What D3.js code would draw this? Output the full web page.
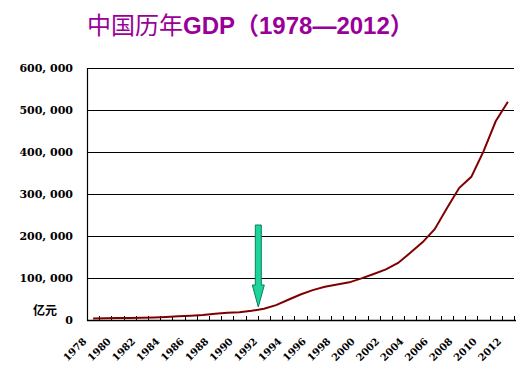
<!DOCTYPE html>
<html><head><meta charset="utf-8">
<script src="https://cdn.jsdelivr.net/npm/d3@7"></script>
<style>
html,body{margin:0;padding:0;background:#fff;}
svg{display:block;}
</style></head>
<body>
<svg id="chart" width="519" height="371"></svg>
<script>
const years = [1978,1979,1980,1981,1982,1983,1984,1985,1986,1987,1988,1989,1990,1991,1992,1993,1994,1995,1996,1997,1998,1999,2000,2001,2002,2003,2004,2005,2006,2007,2008,2009,2010,2011,2012];
const gdp = [3645,4063,4546,4892,5323,5963,7208,9016,10275,12059,15043,16992,18668,21782,26924,35334,48198,60794,71177,78973,84402,89677,99215,109655,120333,135823,159878,184937,216314,265810,314045,340903,401513,473104,519470];
const yTicks = [0,100000,200000,300000,400000,500000,600000];
const xTickLabels = years.filter(y => (y - 1978) % 2 === 0);
const titleParts = [
  {t: "中国历年", cjk: true, bold: false},
  {t: "GDP", cjk: false, bold: true},
  {t: "（", cjk: true, bold: true},
  {t: "1978—2012", cjk: false, bold: true},
  {t: "）", cjk: true, bold: true}
];
const unitLabel = "亿元";
const arrowYear = 1992;

(function(){
const svg = d3.select("#chart");
const pL = 87, pR = 514, pT = 68, pB = 320;

const x = d3.scaleBand().domain(years).range([pL, pR]).padding(0);
const y = d3.scaleLinear().domain([0, 600000]).range([pB, pT]);
const cx = d => x(d) + x.bandwidth() / 2;

// title
const title = svg.append("text").attr("x", 87).attr("y", 34)
  .attr("fill", "#990099").attr("font-size", 24);
title.selectAll("tspan").data(titleParts).join("tspan")
  .text(d => d.t)
  .attr("font-family", d => d.cjk ? "'Noto Sans CJK SC'" : "'Liberation Sans', Arial")
  .attr("font-weight", d => d.bold ? 700 : 400);

// gridlines
svg.append("g").selectAll("line").data(yTicks.filter(v => v > 0)).join("line")
  .attr("x1", pL).attr("x2", pR)
  .attr("y1", d => Math.round(y(d)) + 0.5).attr("y2", d => Math.round(y(d)) + 0.5)
  .attr("stroke", "#000").attr("stroke-width", 1);

// y axis line
svg.append("line").attr("x1", pL + 0.5).attr("x2", pL + 0.5)
  .attr("y1", pT).attr("y2", pB + 1).attr("stroke", "#000").attr("stroke-width", 1.2);

// y labels
const fmt = v => d3.format(",")(v).replace(/,/g, ", ");
svg.append("g").selectAll("text").data(yTicks).join("text")
  .attr("x", 73).attr("y", d => y(d) + 4)
  .attr("text-anchor", "end")
  .attr("font-family", "'DejaVu Serif'").attr("font-weight", 700).attr("font-size", 11)
  .attr("fill", "#000")
  .text(fmt);

svg.append("text").attr("x", 33).attr("y", 315)
  .attr("font-family", "'Noto Sans CJK SC'").attr("font-weight", 700).attr("font-size", 12)
  .attr("fill", "#000").text(unitLabel);

// x axis
const xAxis = svg.append("g").attr("transform", `translate(0,${pB})`);
xAxis.append("line").attr("x1", pL).attr("x2", pR + 2)
  .attr("y1", 0.5).attr("y2", 0.5).attr("stroke", "#000").attr("stroke-width", 1.5);
xAxis.selectAll("line.tick").data(years.slice(1)).join("line").attr("class", "tick")
  .attr("x1", d => Math.round(x(d)) + 0.5).attr("x2", d => Math.round(x(d)) + 0.5)
  .attr("y1", 0).attr("y2", -4).attr("stroke", "#000");
xAxis.append("line").attr("x1", pR + 0.5).attr("x2", pR + 0.5)
  .attr("y1", 0).attr("y2", -4).attr("stroke", "#000");

svg.append("g").selectAll("text").data(xTickLabels).join("text")
  .attr("transform", d => `translate(${cx(d) - 6},${pB + 22}) rotate(-45)`)
  .attr("text-anchor", "end")
  .attr("font-family", "'DejaVu Serif'").attr("font-weight", 700).attr("font-size", 10)
  .attr("fill", "#000")
  .text(d => d);

// line
const line = d3.line().x((d, i) => cx(years[i])).y(d => y(d));
svg.append("path").datum(gdp)
  .attr("d", line)
  .attr("fill", "none").attr("stroke", "#800000").attr("stroke-width", 2);

// arrow annotation
const ax = x(arrowYear) + 0.5;
const aTop = 225, aHeadStart = 285, aTip = 307, sw = 3, hw = 6;
svg.append("path")
  .attr("d", `M${ax - sw},${aTop} L${ax + sw},${aTop} L${ax + sw},${aHeadStart} L${ax + hw},${aHeadStart} L${ax},${aTip} L${ax - hw},${aHeadStart} L${ax - sw},${aHeadStart} Z`)
  .attr("fill", "#1fd49b").attr("stroke", "#0a7d5c").attr("stroke-width", 1);
})();
</script>
</body></html>
